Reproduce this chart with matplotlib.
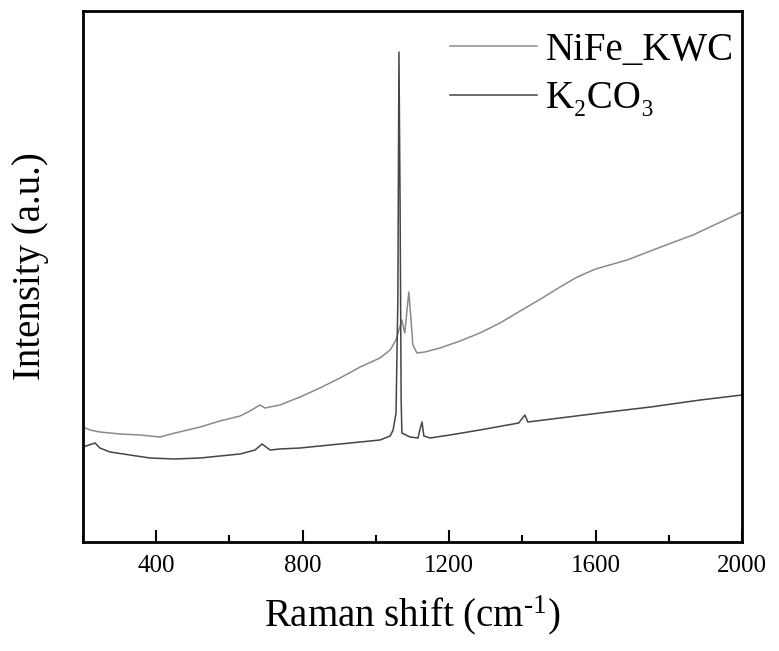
import matplotlib
matplotlib.use("Agg")
import matplotlib.pyplot as plt
from matplotlib.ticker import MultipleLocator

plt.rcParams['font.family'] = ['Liberation Serif', 'DejaVu Serif']
plt.rcParams['mathtext.fontset'] = 'custom'
plt.rcParams['mathtext.rm'] = 'Liberation Serif'
plt.rcParams['mathtext.it'] = 'Liberation Serif:italic'

# NiFe_KWC spectrum (Raman shift, intensity a.u.)
nife_x = [200, 219, 246, 301, 356, 410, 451, 520, 574, 629, 656, 683, 697, 738, 793, 847,
          902, 957, 1011, 1039, 1055, 1063, 1071, 1079, 1085, 1090, 1096, 1101, 1112, 1134,
          1175, 1230, 1284, 1339, 1394, 1450, 1503, 1550, 1600, 1686, 1750, 1800, 1866,
          1930, 2000]
nife_y = [115, 112, 110, 108, 107, 105, 109, 115, 121, 126, 131, 137, 134, 137, 145, 154,
          164, 175, 184, 192, 202, 212, 222, 209, 232, 250, 222, 197, 189, 190,
          194, 201, 209, 219, 231, 243, 255, 265, 273, 282, 291, 298, 307,
          318, 330]

# K2CO3 spectrum
k2co3_x = [200, 233, 246, 274, 328, 383, 451, 520, 574, 629, 670, 689, 711, 738, 793, 847,
           902, 957, 1011, 1039, 1047, 1055, 1060, 1063, 1066, 1069, 1071, 1093, 1115, 1120,
           1126, 1131, 1148, 1202, 1284, 1390, 1407, 1415, 1503, 1612, 1750, 1886, 2000]
k2co3_y = [95, 99, 94, 90, 87, 84, 83, 84, 86, 88, 92, 98, 92, 93, 94, 96,
           98, 100, 102, 106, 112, 129, 242, 490, 342, 142, 109, 105, 104, 112,
           120, 106, 104, 107, 112, 119, 127, 120, 124, 129, 135, 142, 147]

fig = plt.figure(figsize=(7.79, 6.51), dpi=100)
ax = fig.add_axes([83 / 779, 109 / 651, 659 / 779, 531 / 651])

ax.plot(nife_x, nife_y, color='#8a8a8a', lw=1.1, label='NiFe_KWC')
ax.plot(k2co3_x, k2co3_y, color='#454545', lw=1.1, label='K₂CO₃')

ax.set_xlim(200, 2000)
ax.set_ylim(0, 531)
ax.set_yticks([])
ax.set_xticks([400, 800, 1200, 1600, 2000])
ax.xaxis.set_minor_locator(MultipleLocator(200))
ax.tick_params(axis='x', which='major', direction='in', length=9, width=1.5,
               labelsize=18, pad=9)
ax.tick_params(axis='x', which='minor', direction='in', length=5, width=1.5)
for s in ax.spines.values():
    s.set_linewidth(2)

ax.set_xlabel('Raman shift (cm$^{\u2010 1}$)', fontsize=28, labelpad=12)
ax.set_ylabel('Intensity (a.u.)', fontsize=28)
ax.yaxis.set_label_coords(-0.052, 0.52)

leg = ax.legend(loc='upper right', frameon=False, fontsize=28, handlelength=2.24,
                handletextpad=0.23, labelspacing=0.3, borderaxespad=0.1,
                borderpad=0.2, bbox_to_anchor=(1.006, 0.983))

fig.savefig('out.png', dpi=100)
